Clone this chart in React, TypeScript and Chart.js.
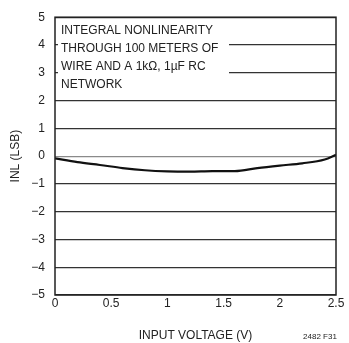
import React, { useEffect, useRef } from "react";
import { Chart, registerables } from "chart.js";

Chart.register(...registerables);

const voltage = [0, 0.2, 0.4, 0.6, 0.8, 1.0, 1.2, 1.4, 1.6, 1.8, 2.0, 2.2, 2.4, 2.5];
const inl = [-0.08, -0.22, -0.32, -0.43, -0.51, -0.55, -0.56, -0.54, -0.54, -0.43, -0.34, -0.26, -0.12, 0.05];
const xTicks = [0, 0.5, 1, 1.5, 2, 2.5];
const noteLines = [
  "INTEGRAL NONLINEARITY",
  "THROUGH 100 METERS OF",
  "WIRE AND A 1kΩ, 1µF RC",
  "NETWORK",
];
const figLabel = "2482 F31";
const FONT = "'Liberation Sans Narrow', 'Liberation Sans', Arial, sans-serif";

export default function App() {
  const ref = useRef<HTMLCanvasElement>(null);
  useEffect(() => {
    document.body.style.margin = "0";
    const frame = {
      id: "frame",
      afterDraw(chart: any) {
        const { ctx, chartArea: a } = chart;
        ctx.save();
        ctx.fillStyle = "#fff";
        ctx.fillRect(a.left + 3, a.top + 6, 171, 70);
        ctx.fillStyle = "#222";
        ctx.font = `12px ${FONT}`;
        ctx.textBaseline = "middle";
        ctx.textAlign = "left";
        noteLines.forEach((t, i) => ctx.fillText(t, a.left + 6, a.top + 13 + i * 18));
        ctx.strokeStyle = "#222";
        ctx.lineWidth = 1.5;
        ctx.strokeRect(a.left, a.top, a.right - a.left, a.bottom - a.top);
        ctx.font = `8px ${FONT}`;
        ctx.textAlign = "center";
        ctx.fillText(figLabel, 320, 337);
        ctx.restore();
      },
    };
    const chart = new Chart(ref.current!, {
      type: "line",
      data: {
        datasets: [
          {
            data: voltage.map((v, i) => ({ x: v, y: inl[i] })),
            borderColor: "#111",
            borderWidth: 2.2,
            pointRadius: 0,
            cubicInterpolationMode: "monotone",
          },
        ],
      },
      options: {
        animation: false,
        responsive: false,
        layout: { padding: { top: 15, right: 13, left: 0, bottom: 0 } },
        plugins: { legend: { display: false }, tooltip: { enabled: false } },
        scales: {
          x: {
            type: "linear",
            min: 0,
            max: 2.5,
            afterBuildTicks: (s: any) => {
              s.ticks = xTicks.map((v) => ({ value: v }));
            },
            ticks: {
              color: "#222",
              font: { family: FONT, size: 12 },
              padding: 1,
              maxRotation: 0,
              callback: (v: any) => String(v),
            },
            grid: { display: false, drawTicks: false },
            border: { display: false },
            title: {
              display: true,
              text: "INPUT VOLTAGE (V)",
              color: "#222",
              font: { family: FONT, size: 12 },
              padding: { top: 7, bottom: 0 },
            },
            afterFit(s: any) {
              s.height = 48;
            },
          },
          y: {
            min: -5,
            max: 5,
            ticks: {
              stepSize: 1,
              color: "#222",
              font: { family: FONT, size: 12 },
              padding: 10,
              callback: (v: any) => String(v).replace("-", "\u2212"),
            },
            grid: {
              drawTicks: false,
              color: (c: any) => (c.tick && c.tick.value === 0 ? "#8a8a8a" : "#333"),
              lineWidth: 1.2,
            },
            border: { display: false },
            title: {
              display: true,
              text: "INL (LSB)",
              color: "#222",
              font: { family: FONT, size: 12 },
              padding: { top: 8, bottom: 0 },
            },
            afterFit(s: any) {
              s.width = 55;
            },
          },
        },
      },
      plugins: [frame],
    } as any);
    return () => chart.destroy();
  }, []);
  return <canvas ref={ref} width={349} height={343} style={{ display: "block" }} />;
}
